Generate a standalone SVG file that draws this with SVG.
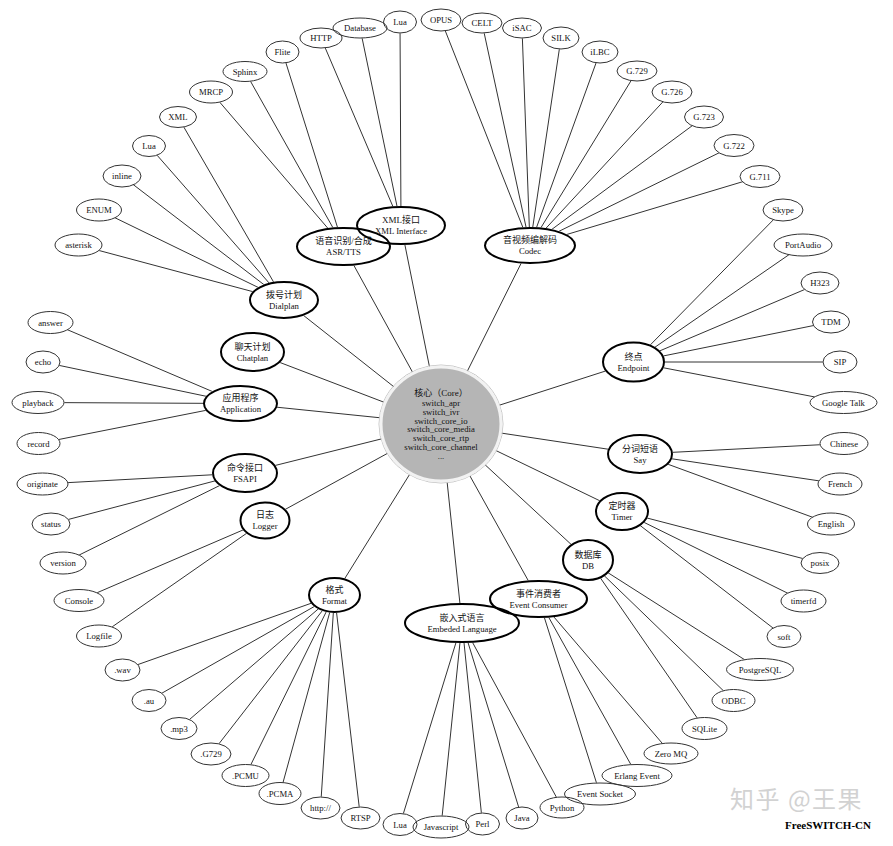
<svg xmlns="http://www.w3.org/2000/svg" xmlns:xlink="http://www.w3.org/1999/xlink" width="893" height="846" viewBox="0 0 893 846">
<style>
text{font-family:"Liberation Serif","Noto Sans CJK SC",serif;font-size:8.7px;fill:#111;text-anchor:middle}
text.zh{font-size:9px}
.leaf ellipse{stroke:#333;stroke-width:1}
.hub ellipse{stroke:#000;stroke-width:2}
#connectors line{stroke:#333;stroke-width:1}
.wm{font-family:"Noto Sans CJK SC",sans-serif;font-size:24px;letter-spacing:1.5px;fill:#d2d2d2;text-anchor:start}
.sig{font-family:"Liberation Serif",serif;font-size:11px;font-weight:bold;fill:#000;text-anchor:start}
</style>
<defs>
<mask id="m" maskUnits="userSpaceOnUse" x="0" y="0" width="893" height="846">
<rect width="893" height="846" fill="white"/>
<use href="#allnodes" xlink:href="#allnodes" fill="black"/>
</mask>
</defs>
<rect width="893" height="846" fill="#fff"/>
<g id="connectors" mask="url(#m)">
<line x1="441" y1="424" x2="284" y2="300"/>
<line x1="441" y1="424" x2="252.5" y2="352"/>
<line x1="441" y1="424" x2="240.5" y2="403.5"/>
<line x1="441" y1="424" x2="245" y2="473"/>
<line x1="441" y1="424" x2="265" y2="520.5"/>
<line x1="441" y1="424" x2="334.5" y2="595"/>
<line x1="441" y1="424" x2="462" y2="623"/>
<line x1="441" y1="424" x2="538.5" y2="599"/>
<line x1="441" y1="424" x2="588" y2="560"/>
<line x1="441" y1="424" x2="622" y2="511.5"/>
<line x1="441" y1="424" x2="640" y2="454"/>
<line x1="441" y1="424" x2="633.5" y2="362"/>
<line x1="441" y1="424" x2="530" y2="245.5"/>
<line x1="441" y1="424" x2="401" y2="225.5"/>
<line x1="441" y1="424" x2="343.5" y2="246.5"/>
<line x1="284" y1="300" x2="78.5" y2="245"/>
<line x1="284" y1="300" x2="99" y2="210"/>
<line x1="284" y1="300" x2="122" y2="176"/>
<line x1="284" y1="300" x2="149" y2="146"/>
<line x1="284" y1="300" x2="178" y2="117"/>
<line x1="343.5" y1="246.5" x2="211" y2="92"/>
<line x1="343.5" y1="246.5" x2="245" y2="71.5"/>
<line x1="343.5" y1="246.5" x2="282.5" y2="52"/>
<line x1="401" y1="225.5" x2="321" y2="38"/>
<line x1="401" y1="225.5" x2="360" y2="28"/>
<line x1="401" y1="225.5" x2="400" y2="22"/>
<line x1="530" y1="245.5" x2="441" y2="20"/>
<line x1="530" y1="245.5" x2="482" y2="23"/>
<line x1="530" y1="245.5" x2="522" y2="28"/>
<line x1="530" y1="245.5" x2="561" y2="38"/>
<line x1="530" y1="245.5" x2="600" y2="52"/>
<line x1="530" y1="245.5" x2="637" y2="71"/>
<line x1="530" y1="245.5" x2="672" y2="92"/>
<line x1="530" y1="245.5" x2="704" y2="117"/>
<line x1="530" y1="245.5" x2="734" y2="145.5"/>
<line x1="530" y1="245.5" x2="760" y2="176.5"/>
<line x1="633.5" y1="362" x2="783" y2="210"/>
<line x1="633.5" y1="362" x2="803" y2="245"/>
<line x1="633.5" y1="362" x2="820" y2="283"/>
<line x1="633.5" y1="362" x2="831" y2="322"/>
<line x1="633.5" y1="362" x2="840" y2="362"/>
<line x1="633.5" y1="362" x2="843.5" y2="402.5"/>
<line x1="640" y1="454" x2="844" y2="443.5"/>
<line x1="640" y1="454" x2="840" y2="484"/>
<line x1="640" y1="454" x2="831" y2="524"/>
<line x1="622" y1="511.5" x2="820" y2="563"/>
<line x1="622" y1="511.5" x2="803.5" y2="601"/>
<line x1="622" y1="511.5" x2="784" y2="636.5"/>
<line x1="588" y1="560" x2="760" y2="669.5"/>
<line x1="588" y1="560" x2="733.5" y2="700.5"/>
<line x1="588" y1="560" x2="704.5" y2="728.5"/>
<line x1="538.5" y1="599" x2="671" y2="753.5"/>
<line x1="538.5" y1="599" x2="637" y2="775.5"/>
<line x1="538.5" y1="599" x2="600" y2="794"/>
<line x1="462" y1="623" x2="562" y2="807.5"/>
<line x1="462" y1="623" x2="522" y2="818"/>
<line x1="462" y1="623" x2="482.5" y2="824"/>
<line x1="462" y1="623" x2="441" y2="827"/>
<line x1="462" y1="623" x2="400" y2="824.5"/>
<line x1="334.5" y1="595" x2="122.5" y2="670"/>
<line x1="334.5" y1="595" x2="149" y2="700.5"/>
<line x1="334.5" y1="595" x2="179" y2="728.5"/>
<line x1="334.5" y1="595" x2="211" y2="754"/>
<line x1="334.5" y1="595" x2="245.5" y2="775.5"/>
<line x1="334.5" y1="595" x2="280" y2="793.5"/>
<line x1="334.5" y1="595" x2="320.5" y2="808"/>
<line x1="334.5" y1="595" x2="360.5" y2="818"/>
<line x1="265" y1="520.5" x2="79" y2="600.5"/>
<line x1="265" y1="520.5" x2="99" y2="636"/>
<line x1="245" y1="473" x2="42.5" y2="484"/>
<line x1="245" y1="473" x2="51" y2="524"/>
<line x1="245" y1="473" x2="63" y2="563"/>
<line x1="240.5" y1="403.5" x2="50.5" y2="322.5"/>
<line x1="240.5" y1="403.5" x2="43" y2="362"/>
<line x1="240.5" y1="403.5" x2="38" y2="402.5"/>
<line x1="240.5" y1="403.5" x2="38.5" y2="443.5"/>
</g>
<g fill="none">
<g id="allnodes">
<g id="n-dialplan" class="hub"><ellipse cx="284" cy="300" rx="34" ry="18"/><text class="zh" x="284" y="297.5">拨号计划</text><text x="284" y="308.5">Dialplan</text></g>
<g id="n-chatplan" class="hub"><ellipse cx="252.5" cy="352" rx="31.5" ry="19"/><text class="zh" x="252.5" y="349.5">聊天计划</text><text x="252.5" y="360.5">Chatplan</text></g>
<g id="n-application" class="hub"><ellipse cx="240.5" cy="403.5" rx="36.5" ry="17.5"/><text class="zh" x="240.5" y="401">应用程序</text><text x="240.5" y="412">Application</text></g>
<g id="n-fsapi" class="hub"><ellipse cx="245" cy="473" rx="32" ry="19"/><text class="zh" x="245" y="470.5">命令接口</text><text x="245" y="481.5">FSAPI</text></g>
<g id="n-logger" class="hub"><ellipse cx="265" cy="520.5" rx="24.5" ry="18"/><text class="zh" x="265" y="518">日志</text><text x="265" y="529">Logger</text></g>
<g id="n-format" class="hub"><ellipse cx="334.5" cy="595" rx="25.5" ry="17"/><text class="zh" x="334.5" y="592.5">格式</text><text x="334.5" y="603.5">Format</text></g>
<g id="n-embeded" class="hub"><ellipse cx="462" cy="623" rx="57" ry="19"/><text class="zh" x="462" y="620.5">嵌入式语言</text><text x="462" y="631.5">Embeded Language</text></g>
<g id="n-eventconsumer" class="hub"><ellipse cx="538.5" cy="599" rx="48.5" ry="18"/><text class="zh" x="538.5" y="596.5">事件消费者</text><text x="538.5" y="607.5">Event Consumer</text></g>
<g id="n-db" class="hub"><ellipse cx="588" cy="560" rx="25" ry="20"/><text class="zh" x="588" y="557.5">数据库</text><text x="588" y="568.5">DB</text></g>
<g id="n-timer" class="hub"><ellipse cx="622" cy="511.5" rx="26" ry="18.5"/><text class="zh" x="622" y="509">定时器</text><text x="622" y="520">Timer</text></g>
<g id="n-say" class="hub"><ellipse cx="640" cy="454" rx="32" ry="19"/><text class="zh" x="640" y="451.5">分词短语</text><text x="640" y="462.5">Say</text></g>
<g id="n-endpoint" class="hub"><ellipse cx="633.5" cy="362" rx="30.5" ry="19.5"/><text class="zh" x="633.5" y="359.5">终点</text><text x="633.5" y="370.5">Endpoint</text></g>
<g id="n-codec" class="hub"><ellipse cx="530" cy="245.5" rx="45" ry="17.5"/><text class="zh" x="530" y="243">音视频编解码</text><text x="530" y="254">Codec</text></g>
<g id="n-xmlinterface" class="hub"><ellipse cx="401" cy="225.5" rx="44" ry="18.5"/><text class="zh" x="401" y="223">XML接口</text><text x="401" y="234">XML Interface</text></g>
<g id="n-asrtts" class="hub"><ellipse cx="343.5" cy="246.5" rx="46.5" ry="18.5"/><text class="zh" x="343.5" y="244">语音识别/合成</text><text x="343.5" y="255">ASR/TTS</text></g>
<g id="n-asterisk" class="leaf"><ellipse cx="78.5" cy="245" rx="23.5" ry="11"/><text x="78.5" y="248">asterisk</text></g>
<g id="n-enum" class="leaf"><ellipse cx="99" cy="210" rx="22.5" ry="11"/><text x="99" y="213">ENUM</text></g>
<g id="n-inline" class="leaf"><ellipse cx="122" cy="176" rx="19" ry="11"/><text x="122" y="179">inline</text></g>
<g id="n-lua-dp" class="leaf"><ellipse cx="149" cy="146" rx="16.5" ry="10.5"/><text x="149" y="149">Lua</text></g>
<g id="n-xml" class="leaf"><ellipse cx="178" cy="117" rx="18.5" ry="10.5"/><text x="178" y="120">XML</text></g>
<g id="n-mrcp" class="leaf"><ellipse cx="211" cy="92" rx="21.5" ry="11"/><text x="211" y="95">MRCP</text></g>
<g id="n-sphinx" class="leaf"><ellipse cx="245" cy="71.5" rx="22" ry="10"/><text x="245" y="74.5">Sphinx</text></g>
<g id="n-flite" class="leaf"><ellipse cx="282.5" cy="52" rx="16.5" ry="11"/><text x="282.5" y="55">Flite</text></g>
<g id="n-http" class="leaf"><ellipse cx="321" cy="38" rx="21" ry="10"/><text x="321" y="41">HTTP</text></g>
<g id="n-database" class="leaf"><ellipse cx="360" cy="28" rx="27" ry="10"/><text x="360" y="31">Database</text></g>
<g id="n-lua-xml" class="leaf"><ellipse cx="400" cy="22" rx="16.5" ry="11"/><text x="400" y="25">Lua</text></g>
<g id="n-opus" class="leaf"><ellipse cx="441" cy="20" rx="20" ry="11"/><text x="441" y="23">OPUS</text></g>
<g id="n-celt" class="leaf"><ellipse cx="482" cy="23" rx="20" ry="10"/><text x="482" y="26">CELT</text></g>
<g id="n-isac" class="leaf"><ellipse cx="522" cy="28" rx="19.5" ry="10"/><text x="522" y="31">iSAC</text></g>
<g id="n-silk" class="leaf"><ellipse cx="561" cy="38" rx="18" ry="11"/><text x="561" y="41">SILK</text></g>
<g id="n-ilbc" class="leaf"><ellipse cx="600" cy="52" rx="18" ry="11"/><text x="600" y="55">iLBC</text></g>
<g id="n-g729" class="leaf"><ellipse cx="637" cy="71" rx="20" ry="10"/><text x="637" y="74">G.729</text></g>
<g id="n-g726" class="leaf"><ellipse cx="672" cy="92" rx="20" ry="11"/><text x="672" y="95">G.726</text></g>
<g id="n-g723" class="leaf"><ellipse cx="704" cy="117" rx="19.5" ry="11"/><text x="704" y="120">G.723</text></g>
<g id="n-g722" class="leaf"><ellipse cx="734" cy="145.5" rx="20" ry="11"/><text x="734" y="148.5">G.722</text></g>
<g id="n-g711" class="leaf"><ellipse cx="760" cy="176.5" rx="20" ry="11"/><text x="760" y="179.5">G.711</text></g>
<g id="n-skype" class="leaf"><ellipse cx="783" cy="210" rx="20" ry="11"/><text x="783" y="213">Skype</text></g>
<g id="n-portaudio" class="leaf"><ellipse cx="803" cy="245" rx="29" ry="11"/><text x="803" y="248">PortAudio</text></g>
<g id="n-h323" class="leaf"><ellipse cx="820" cy="283" rx="19" ry="11"/><text x="820" y="286">H323</text></g>
<g id="n-tdm" class="leaf"><ellipse cx="831" cy="322" rx="18.5" ry="11"/><text x="831" y="325">TDM</text></g>
<g id="n-sip" class="leaf"><ellipse cx="840" cy="362" rx="17" ry="11"/><text x="840" y="365">SIP</text></g>
<g id="n-googletalk" class="leaf"><ellipse cx="843.5" cy="402.5" rx="33.5" ry="11"/><text x="843.5" y="405.5">Google Talk</text></g>
<g id="n-chinese" class="leaf"><ellipse cx="844" cy="443.5" rx="24" ry="11"/><text x="844" y="446.5">Chinese</text></g>
<g id="n-french" class="leaf"><ellipse cx="840" cy="484" rx="22" ry="11"/><text x="840" y="487">French</text></g>
<g id="n-english" class="leaf"><ellipse cx="831" cy="524" rx="23.5" ry="11"/><text x="831" y="527">English</text></g>
<g id="n-posix" class="leaf"><ellipse cx="820" cy="563" rx="19" ry="10.5"/><text x="820" y="566">posix</text></g>
<g id="n-timerfd" class="leaf"><ellipse cx="803.5" cy="601" rx="22.5" ry="11"/><text x="803.5" y="604">timerfd</text></g>
<g id="n-soft" class="leaf"><ellipse cx="784" cy="636.5" rx="17" ry="11"/><text x="784" y="639.5">soft</text></g>
<g id="n-postgresql" class="leaf"><ellipse cx="760" cy="669.5" rx="33.5" ry="11"/><text x="760" y="672.5">PostgreSQL</text></g>
<g id="n-odbc" class="leaf"><ellipse cx="733.5" cy="700.5" rx="21.5" ry="11"/><text x="733.5" y="703.5">ODBC</text></g>
<g id="n-sqlite" class="leaf"><ellipse cx="704.5" cy="728.5" rx="22.5" ry="11"/><text x="704.5" y="731.5">SQLite</text></g>
<g id="n-zeromq" class="leaf"><ellipse cx="671" cy="753.5" rx="27" ry="10.5"/><text x="671" y="756.5">Zero MQ</text></g>
<g id="n-erlang" class="leaf"><ellipse cx="637" cy="775.5" rx="35" ry="11"/><text x="637" y="778.5">Erlang Event</text></g>
<g id="n-eventsocket" class="leaf"><ellipse cx="600" cy="794" rx="35.5" ry="11"/><text x="600" y="797">Event Socket</text></g>
<g id="n-python" class="leaf"><ellipse cx="562" cy="807.5" rx="22" ry="10.5"/><text x="562" y="810.5">Python</text></g>
<g id="n-java" class="leaf"><ellipse cx="522" cy="818" rx="16" ry="11"/><text x="522" y="821">Java</text></g>
<g id="n-perl" class="leaf"><ellipse cx="482.5" cy="824" rx="17" ry="11"/><text x="482.5" y="827">Perl</text></g>
<g id="n-javascript" class="leaf"><ellipse cx="441" cy="827" rx="28" ry="11"/><text x="441" y="830">Javascript</text></g>
<g id="n-lua-el" class="leaf"><ellipse cx="400" cy="824.5" rx="17" ry="11"/><text x="400" y="827.5">Lua</text></g>
<g id="n-rtsp" class="leaf"><ellipse cx="360.5" cy="818" rx="19.5" ry="11"/><text x="360.5" y="821">RTSP</text></g>
<g id="n-http2" class="leaf"><ellipse cx="320.5" cy="808" rx="19.5" ry="11"/><text x="320.5" y="811">http://</text></g>
<g id="n-pcma" class="leaf"><ellipse cx="280" cy="793.5" rx="21" ry="11"/><text x="280" y="796.5">.PCMA</text></g>
<g id="n-pcmu" class="leaf"><ellipse cx="245.5" cy="775.5" rx="23.5" ry="11"/><text x="245.5" y="778.5">.PCMU</text></g>
<g id="n-g729f" class="leaf"><ellipse cx="211" cy="754" rx="20" ry="11"/><text x="211" y="757">.G729</text></g>
<g id="n-mp3" class="leaf"><ellipse cx="179" cy="728.5" rx="18" ry="11"/><text x="179" y="731.5">.mp3</text></g>
<g id="n-au" class="leaf"><ellipse cx="149" cy="700.5" rx="17" ry="11"/><text x="149" y="703.5">.au</text></g>
<g id="n-wav" class="leaf"><ellipse cx="122.5" cy="670" rx="17.5" ry="11"/><text x="122.5" y="673">.wav</text></g>
<g id="n-logfile" class="leaf"><ellipse cx="99" cy="636" rx="22.5" ry="11"/><text x="99" y="639">Logfile</text></g>
<g id="n-console" class="leaf"><ellipse cx="79" cy="600.5" rx="25" ry="11"/><text x="79" y="603.5">Console</text></g>
<g id="n-version" class="leaf"><ellipse cx="63" cy="563" rx="23" ry="11"/><text x="63" y="566">version</text></g>
<g id="n-status" class="leaf"><ellipse cx="51" cy="524" rx="19" ry="11"/><text x="51" y="527">status</text></g>
<g id="n-originate" class="leaf"><ellipse cx="42.5" cy="484" rx="25.5" ry="11"/><text x="42.5" y="487">originate</text></g>
<g id="n-record" class="leaf"><ellipse cx="38.5" cy="443.5" rx="21.5" ry="11"/><text x="38.5" y="446.5">record</text></g>
<g id="n-playback" class="leaf"><ellipse cx="38" cy="402.5" rx="26" ry="11"/><text x="38" y="405.5">playback</text></g>
<g id="n-echo" class="leaf"><ellipse cx="43" cy="362" rx="17" ry="11"/><text x="43" y="365">echo</text></g>
<g id="n-answer" class="leaf"><ellipse cx="50.5" cy="322.5" rx="22.5" ry="11"/><text x="50.5" y="325.5">answer</text></g>
</g>
</g>
<g id="n-core">
<ellipse cx="441" cy="424" rx="62" ry="59" fill="none" stroke="#c4c4c4" stroke-width="1"/>
<ellipse cx="441" cy="424" rx="60" ry="57" fill="#b5b5b5" stroke="#f2f2f2" stroke-width="3"/>
<text class="zh" x="441" y="395.5">核心（Core）</text>
<text x="441" y="406">switch_apr</text>
<text x="441" y="414.8">switch_ivr</text>
<text x="441" y="423.6">switch_core_io</text>
<text x="441" y="432.4">switch_core_media</text>
<text x="441" y="441.2">switch_core_rtp</text>
<text x="441" y="450">switch_core_channel</text>
<text x="441" y="458.5">...</text>
</g>
<text class="wm" x="730" y="808">知乎 @王果</text>
<text class="sig" x="785" y="829">FreeSWITCH-CN</text>
</svg>
